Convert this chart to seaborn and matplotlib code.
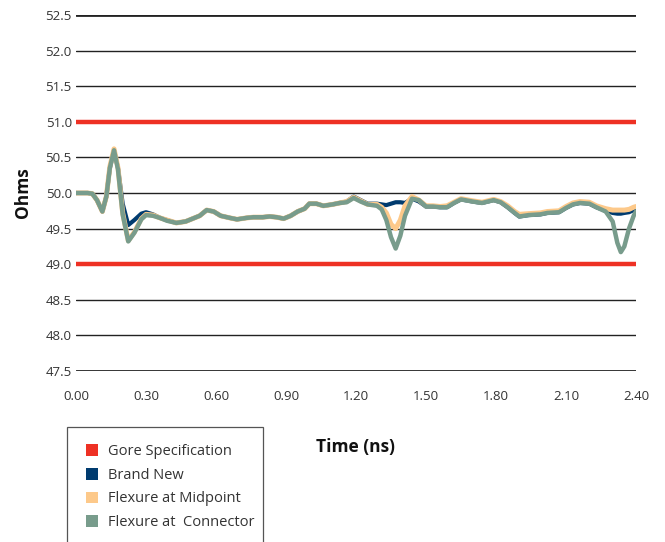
import matplotlib
matplotlib.use("Agg")
import matplotlib.pyplot as plt
from matplotlib.patches import Patch, Rectangle
import seaborn as sns
import pandas as pd

time_ns = [0.00, 0.05, 0.07, 0.09, 0.113, 0.13, 0.145, 0.163, 0.18, 0.20, 0.224, 0.25, 0.28, 0.30,
           0.33, 0.36, 0.39, 0.43, 0.47, 0.50, 0.53, 0.56, 0.59, 0.62, 0.66, 0.69, 0.73, 0.76,
           0.80, 0.83, 0.86, 0.89, 0.92, 0.95, 0.98, 1.00, 1.03, 1.06, 1.10, 1.13, 1.16, 1.19,
           1.22, 1.25, 1.29, 1.31, 1.33, 1.35, 1.37, 1.39, 1.41, 1.44, 1.47, 1.50, 1.53, 1.56,
           1.59, 1.62, 1.65, 1.70, 1.74, 1.79, 1.82, 1.85, 1.88, 1.90, 1.94, 1.99, 2.02, 2.07,
           2.10, 2.13, 2.16, 2.20, 2.23, 2.27, 2.30, 2.32, 2.335, 2.35, 2.37, 2.39, 2.40]

brand_new = [50.00, 50.00, 49.99, 49.90, 49.74, 49.95, 50.35, 50.60, 50.35, 49.85, 49.55, 49.62, 49.71, 49.73,
             49.70, 49.65, 49.62, 49.58, 49.60, 49.64, 49.68, 49.76, 49.74, 49.68, 49.65, 49.63, 49.65, 49.66,
             49.66, 49.67, 49.66, 49.64, 49.68, 49.74, 49.78, 49.85, 49.85, 49.82, 49.84, 49.86, 49.88, 49.95,
             49.90, 49.85, 49.85, 49.84, 49.83, 49.85, 49.87, 49.87, 49.86, 49.92, 49.88, 49.81, 49.81, 49.80,
             49.80, 49.86, 49.91, 49.88, 49.86, 49.90, 49.87, 49.80, 49.72, 49.67, 49.69, 49.70, 49.72, 49.73,
             49.79, 49.84, 49.86, 49.85, 49.80, 49.75, 49.72, 49.71, 49.71, 49.72, 49.73, 49.76, 49.78]

flex_mid = [50.00, 50.00, 49.99, 49.90, 49.74, 49.95, 50.37, 50.62, 50.35, 49.72, 49.33, 49.45, 49.64, 49.70,
            49.69, 49.65, 49.62, 49.58, 49.60, 49.64, 49.68, 49.76, 49.74, 49.68, 49.65, 49.63, 49.65, 49.66,
            49.66, 49.67, 49.66, 49.64, 49.68, 49.74, 49.78, 49.85, 49.85, 49.82, 49.84, 49.86, 49.88, 49.94,
            49.89, 49.84, 49.84, 49.80, 49.72, 49.56, 49.50, 49.62, 49.82, 49.95, 49.90, 49.82, 49.82, 49.81,
            49.82, 49.87, 49.92, 49.89, 49.87, 49.91, 49.88, 49.82, 49.74, 49.70, 49.71, 49.72, 49.74, 49.75,
            49.81, 49.86, 49.88, 49.87, 49.82, 49.78, 49.76, 49.76, 49.76, 49.76, 49.77, 49.80, 49.81]

flex_conn = [50.00, 50.00, 49.99, 49.90, 49.74, 49.95, 50.35, 50.60, 50.33, 49.70, 49.32, 49.44, 49.63, 49.69,
             49.68, 49.65, 49.61, 49.58, 49.60, 49.64, 49.68, 49.76, 49.74, 49.68, 49.65, 49.63, 49.65, 49.66,
             49.66, 49.67, 49.66, 49.64, 49.68, 49.74, 49.78, 49.85, 49.85, 49.82, 49.84, 49.86, 49.87, 49.93,
             49.88, 49.84, 49.82, 49.77, 49.62, 49.38, 49.22, 49.40, 49.68, 49.92, 49.90, 49.81, 49.81, 49.80,
             49.80, 49.86, 49.91, 49.88, 49.86, 49.90, 49.87, 49.80, 49.72, 49.67, 49.69, 49.70, 49.72, 49.73,
             49.79, 49.84, 49.86, 49.85, 49.80, 49.74, 49.60, 49.30, 49.17, 49.25, 49.50, 49.68, 49.74]

spec_limits = [49.0, 51.0]
series_names = ["Brand New", "Flexure at Midpoint", "Flexure at  Connector"]
legend_labels = ["Gore Specification", "Brand New", "Flexure at Midpoint", "Flexure at  Connector"]
colors = {"Gore Specification": "#EE3124", "Brand New": "#003B6F",
          "Flexure at Midpoint": "#FDC98A", "Flexure at  Connector": "#789C8C"}
y_ticks = [47.5, 48.0, 48.5, 49.0, 49.5, 50.0, 50.5, 51.0, 51.5, 52.0, 52.5]
x_ticks = [0.00, 0.30, 0.60, 0.90, 1.20, 1.50, 1.80, 2.10, 2.40]

sns.set_style("white")
plt.rcParams['font.family'] = ['Open Sans', 'DejaVu Sans']

df = pd.DataFrame({
    "Time": time_ns * 3,
    "Ohms": brand_new + flex_mid + flex_conn,
    "Series": [series_names[0]] * len(time_ns) + [series_names[1]] * len(time_ns) + [series_names[2]] * len(time_ns),
})

W, H = 665, 542
fig = plt.figure(figsize=(W / 100, H / 100), dpi=100)
ax = fig.add_axes([76 / W, 1 - 371 / H, 560 / W, 356 / H])

for yv in y_ticks:
    if yv in spec_limits:
        continue
    lw = 2.0 if yv in (y_ticks[0], y_ticks[-1]) else 1.0
    ax.axhline(yv, color="#222222", lw=lw, zorder=1)
for yv in spec_limits:
    ax.axhline(yv, color=colors["Gore Specification"], lw=3.2, zorder=2)

sns.lineplot(data=df, x="Time", y="Ohms", hue="Series", hue_order=series_names,
             palette=[colors[s] for s in series_names], linewidth=3.2, ax=ax,
             legend=False, zorder=3, sort=True)
for ln, lw in zip(ax.lines[-3:], [3.0, 3.6, 3.2]):
    ln.set_linewidth(lw)
    ln.set_solid_joinstyle("round")
    ln.set_solid_capstyle("round")

ax.set_xlim(0, 2.4)
ax.set_ylim(47.5, 52.5)
ax.set_xticks(x_ticks)
ax.set_xticklabels([f"{v:.2f}" for v in x_ticks])
ax.set_yticks(y_ticks)
ax.set_yticklabels([f"{v:.1f}" for v in y_ticks])
ax.tick_params(axis="both", length=0, labelsize=9.5, labelcolor="#333333")
ax.tick_params(axis="x", pad=14)
ax.tick_params(axis="y", pad=3)
for s in ax.spines.values():
    s.set_visible(False)
ax.set_xlabel("Time (ns)", fontsize=12.5, fontweight="bold", labelpad=25, color="#111111")
ax.set_ylabel("Ohms", fontsize=12.5, fontweight="bold", labelpad=10, color="#111111")

# legend frame (extends past the bottom edge of the figure, as in the reference)
fig.patches.append(Rectangle((67 / W, 1 - 560 / H), (263 - 67) / W, (560 - 427) / H,
                             transform=fig.transFigure, facecolor="white",
                             edgecolor="#555555", lw=0.9, zorder=0))
handles = [Patch(facecolor=colors[l], edgecolor="none", label=l) for l in legend_labels]
leg = fig.legend(handles=handles, loc="upper left", bbox_to_anchor=(86 / W, 1 - 444 / H),
                 frameon=False, fontsize=10.5,
                 handlelength=0.85, handleheight=0.85, handletextpad=0.65, labelspacing=0.6,
                 borderpad=0, borderaxespad=0)
for t in leg.get_texts():
    t.set_color("#333333")

fig.savefig("out.png", dpi=100)
